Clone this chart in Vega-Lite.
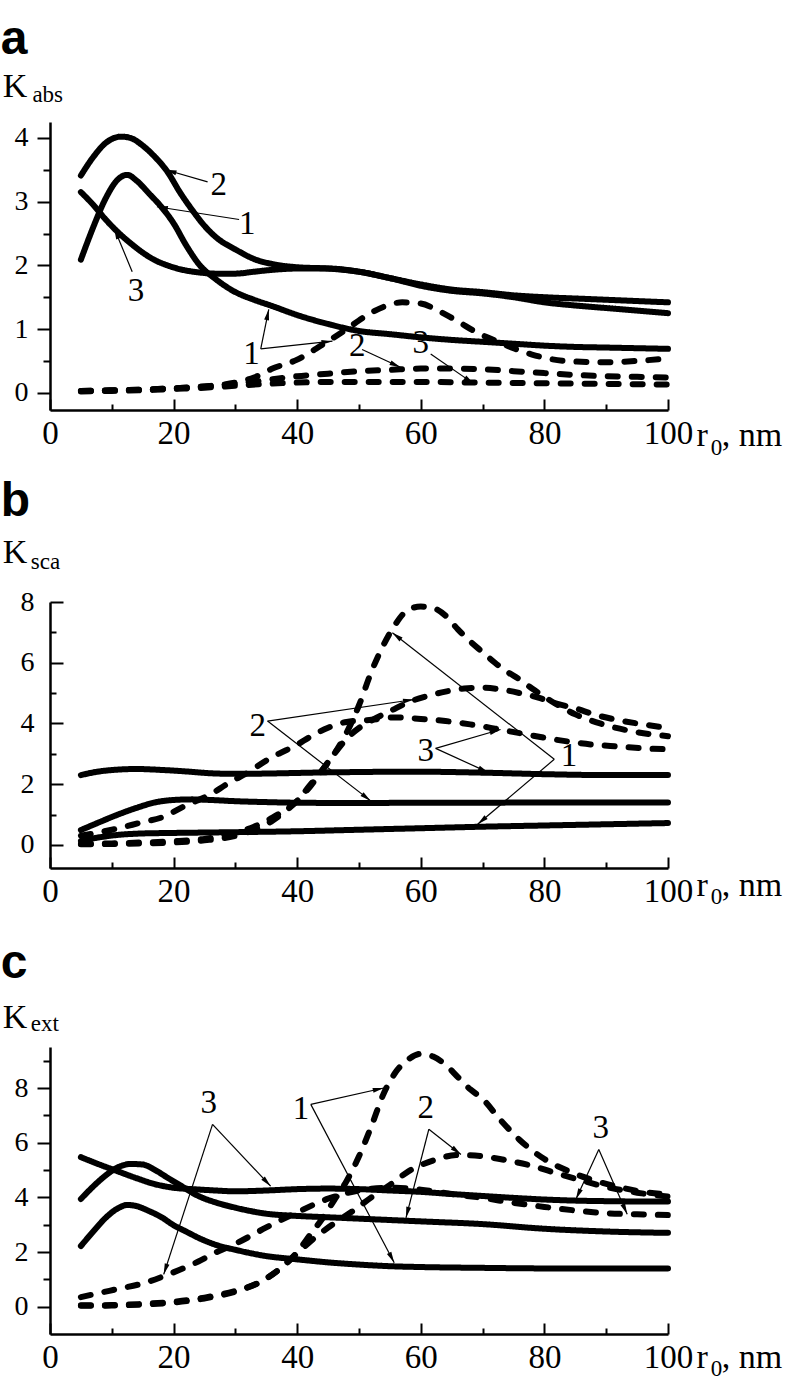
{
"$schema":"https://vega.github.io/schema/vega-lite/v6.json",
"background":"white",
"padding":{"top":15,"left":0,"right":0,"bottom":0},
"config":{"view":{"stroke":null},"axis":{"domainColor":"black","domainWidth":2.5,"tickColor":"black","tickWidth":2,"labelColor":"black","labelFont":"Times New Roman","grid":false,"title":null}},
"datasets":{
"curves":[
{"p":"a","c":"s1","s":"solid","r":5,"K":2.09},{"p":"a","c":"s1","s":"solid","r":7,"K":2.6},{"p":"a","c":"s1","s":"solid","r":9,"K":3.05},{"p":"a","c":"s1","s":"solid","r":11,"K":3.35},{"p":"a","c":"s1","s":"solid","r":12.5,"K":3.42},{"p":"a","c":"s1","s":"solid","r":14,"K":3.33},{"p":"a","c":"s1","s":"solid","r":16,"K":3.13},{"p":"a","c":"s1","s":"solid","r":18,"K":2.92},{"p":"a","c":"s1","s":"solid","r":20,"K":2.66},{"p":"a","c":"s1","s":"solid","r":22,"K":2.32},{"p":"a","c":"s1","s":"solid","r":24,"K":2.03},{"p":"a","c":"s1","s":"solid","r":27,"K":1.77},{"p":"a","c":"s1","s":"solid","r":30,"K":1.58},{"p":"a","c":"s1","s":"solid","r":33,"K":1.46},{"p":"a","c":"s1","s":"solid","r":36,"K":1.36},{"p":"a","c":"s1","s":"solid","r":40,"K":1.22},{"p":"a","c":"s1","s":"solid","r":45,"K":1.08},{"p":"a","c":"s1","s":"solid","r":50,"K":0.97},{"p":"a","c":"s1","s":"solid","r":55,"K":0.92},{"p":"a","c":"s1","s":"solid","r":60,"K":0.87},{"p":"a","c":"s1","s":"solid","r":65,"K":0.83},{"p":"a","c":"s1","s":"solid","r":70,"K":0.8},{"p":"a","c":"s1","s":"solid","r":75,"K":0.77},{"p":"a","c":"s1","s":"solid","r":80,"K":0.74},{"p":"a","c":"s1","s":"solid","r":85,"K":0.72},{"p":"a","c":"s1","s":"solid","r":90,"K":0.71},{"p":"a","c":"s1","s":"solid","r":95,"K":0.7},{"p":"a","c":"s1","s":"solid","r":100,"K":0.69},
{"p":"a","c":"s2","s":"solid","r":5,"K":3.41},{"p":"a","c":"s2","s":"solid","r":7,"K":3.7},{"p":"a","c":"s2","s":"solid","r":9,"K":3.92},{"p":"a","c":"s2","s":"solid","r":11.5,"K":4.02},{"p":"a","c":"s2","s":"solid","r":13,"K":4.0},{"p":"a","c":"s2","s":"solid","r":15,"K":3.88},{"p":"a","c":"s2","s":"solid","r":17,"K":3.7},{"p":"a","c":"s2","s":"solid","r":19,"K":3.47},{"p":"a","c":"s2","s":"solid","r":21,"K":3.15},{"p":"a","c":"s2","s":"solid","r":23,"K":2.87},{"p":"a","c":"s2","s":"solid","r":25,"K":2.62},{"p":"a","c":"s2","s":"solid","r":27,"K":2.43},{"p":"a","c":"s2","s":"solid","r":30,"K":2.25},{"p":"a","c":"s2","s":"solid","r":33,"K":2.1},{"p":"a","c":"s2","s":"solid","r":36,"K":2.02},{"p":"a","c":"s2","s":"solid","r":40,"K":1.97},{"p":"a","c":"s2","s":"solid","r":45,"K":1.95},{"p":"a","c":"s2","s":"solid","r":50,"K":1.9},{"p":"a","c":"s2","s":"solid","r":55,"K":1.8},{"p":"a","c":"s2","s":"solid","r":60,"K":1.68},{"p":"a","c":"s2","s":"solid","r":65,"K":1.6},{"p":"a","c":"s2","s":"solid","r":70,"K":1.56},{"p":"a","c":"s2","s":"solid","r":75,"K":1.5},{"p":"a","c":"s2","s":"solid","r":80,"K":1.42},{"p":"a","c":"s2","s":"solid","r":85,"K":1.37},{"p":"a","c":"s2","s":"solid","r":90,"K":1.33},{"p":"a","c":"s2","s":"solid","r":95,"K":1.29},{"p":"a","c":"s2","s":"solid","r":100,"K":1.25},
{"p":"a","c":"s3","s":"solid","r":5,"K":3.15},{"p":"a","c":"s3","s":"solid","r":7,"K":2.95},{"p":"a","c":"s3","s":"solid","r":9,"K":2.72},{"p":"a","c":"s3","s":"solid","r":11,"K":2.52},{"p":"a","c":"s3","s":"solid","r":13,"K":2.35},{"p":"a","c":"s3","s":"solid","r":15,"K":2.2},{"p":"a","c":"s3","s":"solid","r":17,"K":2.08},{"p":"a","c":"s3","s":"solid","r":19,"K":2.0},{"p":"a","c":"s3","s":"solid","r":21,"K":1.94},{"p":"a","c":"s3","s":"solid","r":24,"K":1.89},{"p":"a","c":"s3","s":"solid","r":27,"K":1.87},{"p":"a","c":"s3","s":"solid","r":30,"K":1.87},{"p":"a","c":"s3","s":"solid","r":33,"K":1.9},{"p":"a","c":"s3","s":"solid","r":36,"K":1.93},{"p":"a","c":"s3","s":"solid","r":40,"K":1.95},{"p":"a","c":"s3","s":"solid","r":45,"K":1.95},{"p":"a","c":"s3","s":"solid","r":50,"K":1.9},{"p":"a","c":"s3","s":"solid","r":55,"K":1.8},{"p":"a","c":"s3","s":"solid","r":60,"K":1.7},{"p":"a","c":"s3","s":"solid","r":65,"K":1.62},{"p":"a","c":"s3","s":"solid","r":70,"K":1.58},{"p":"a","c":"s3","s":"solid","r":75,"K":1.53},{"p":"a","c":"s3","s":"solid","r":80,"K":1.5},{"p":"a","c":"s3","s":"solid","r":85,"K":1.48},{"p":"a","c":"s3","s":"solid","r":90,"K":1.46},{"p":"a","c":"s3","s":"solid","r":95,"K":1.44},{"p":"a","c":"s3","s":"solid","r":100,"K":1.42},
{"p":"a","c":"d1","s":"dashed","r":5,"K":0.03},{"p":"a","c":"d1","s":"dashed","r":10,"K":0.04},{"p":"a","c":"d1","s":"dashed","r":15,"K":0.05},{"p":"a","c":"d1","s":"dashed","r":20,"K":0.07},{"p":"a","c":"d1","s":"dashed","r":25,"K":0.1},{"p":"a","c":"d1","s":"dashed","r":30,"K":0.16},{"p":"a","c":"d1","s":"dashed","r":33,"K":0.24},{"p":"a","c":"d1","s":"dashed","r":36,"K":0.38},{"p":"a","c":"d1","s":"dashed","r":40,"K":0.52},{"p":"a","c":"d1","s":"dashed","r":44,"K":0.75},{"p":"a","c":"d1","s":"dashed","r":48,"K":1.0},{"p":"a","c":"d1","s":"dashed","r":51,"K":1.2},{"p":"a","c":"d1","s":"dashed","r":54,"K":1.35},{"p":"a","c":"d1","s":"dashed","r":57,"K":1.42},{"p":"a","c":"d1","s":"dashed","r":60,"K":1.4},{"p":"a","c":"d1","s":"dashed","r":63,"K":1.28},{"p":"a","c":"d1","s":"dashed","r":66,"K":1.12},{"p":"a","c":"d1","s":"dashed","r":69,"K":0.95},{"p":"a","c":"d1","s":"dashed","r":72,"K":0.82},{"p":"a","c":"d1","s":"dashed","r":75,"K":0.7},{"p":"a","c":"d1","s":"dashed","r":78,"K":0.6},{"p":"a","c":"d1","s":"dashed","r":81,"K":0.53},{"p":"a","c":"d1","s":"dashed","r":85,"K":0.49},{"p":"a","c":"d1","s":"dashed","r":90,"K":0.48},{"p":"a","c":"d1","s":"dashed","r":95,"K":0.5},{"p":"a","c":"d1","s":"dashed","r":100,"K":0.54},
{"p":"a","c":"d2","s":"dashed","r":5,"K":0.03},{"p":"a","c":"d2","s":"dashed","r":10,"K":0.04},{"p":"a","c":"d2","s":"dashed","r":15,"K":0.05},{"p":"a","c":"d2","s":"dashed","r":20,"K":0.07},{"p":"a","c":"d2","s":"dashed","r":25,"K":0.1},{"p":"a","c":"d2","s":"dashed","r":30,"K":0.14},{"p":"a","c":"d2","s":"dashed","r":35,"K":0.2},{"p":"a","c":"d2","s":"dashed","r":40,"K":0.26},{"p":"a","c":"d2","s":"dashed","r":45,"K":0.3},{"p":"a","c":"d2","s":"dashed","r":50,"K":0.34},{"p":"a","c":"d2","s":"dashed","r":55,"K":0.36},{"p":"a","c":"d2","s":"dashed","r":60,"K":0.38},{"p":"a","c":"d2","s":"dashed","r":65,"K":0.38},{"p":"a","c":"d2","s":"dashed","r":70,"K":0.37},{"p":"a","c":"d2","s":"dashed","r":75,"K":0.34},{"p":"a","c":"d2","s":"dashed","r":80,"K":0.31},{"p":"a","c":"d2","s":"dashed","r":85,"K":0.28},{"p":"a","c":"d2","s":"dashed","r":90,"K":0.26},{"p":"a","c":"d2","s":"dashed","r":95,"K":0.25},{"p":"a","c":"d2","s":"dashed","r":100,"K":0.24},
{"p":"a","c":"d3","s":"dashed","r":5,"K":0.02},{"p":"a","c":"d3","s":"dashed","r":10,"K":0.03},{"p":"a","c":"d3","s":"dashed","r":15,"K":0.04},{"p":"a","c":"d3","s":"dashed","r":20,"K":0.06},{"p":"a","c":"d3","s":"dashed","r":25,"K":0.08},{"p":"a","c":"d3","s":"dashed","r":30,"K":0.11},{"p":"a","c":"d3","s":"dashed","r":35,"K":0.14},{"p":"a","c":"d3","s":"dashed","r":40,"K":0.16},{"p":"a","c":"d3","s":"dashed","r":45,"K":0.17},{"p":"a","c":"d3","s":"dashed","r":50,"K":0.17},{"p":"a","c":"d3","s":"dashed","r":60,"K":0.17},{"p":"a","c":"d3","s":"dashed","r":70,"K":0.16},{"p":"a","c":"d3","s":"dashed","r":80,"K":0.15},{"p":"a","c":"d3","s":"dashed","r":90,"K":0.14},{"p":"a","c":"d3","s":"dashed","r":100,"K":0.13},
{"p":"b","c":"s1","s":"solid","r":5,"K":0.13},{"p":"b","c":"s1","s":"solid","r":8,"K":0.25},{"p":"b","c":"s1","s":"solid","r":11,"K":0.33},{"p":"b","c":"s1","s":"solid","r":14,"K":0.37},{"p":"b","c":"s1","s":"solid","r":18,"K":0.39},{"p":"b","c":"s1","s":"solid","r":22,"K":0.4},{"p":"b","c":"s1","s":"solid","r":26,"K":0.41},{"p":"b","c":"s1","s":"solid","r":30,"K":0.42},{"p":"b","c":"s1","s":"solid","r":40,"K":0.45},{"p":"b","c":"s1","s":"solid","r":50,"K":0.5},{"p":"b","c":"s1","s":"solid","r":60,"K":0.55},{"p":"b","c":"s1","s":"solid","r":70,"K":0.6},{"p":"b","c":"s1","s":"solid","r":80,"K":0.64},{"p":"b","c":"s1","s":"solid","r":90,"K":0.68},{"p":"b","c":"s1","s":"solid","r":100,"K":0.72},
{"p":"b","c":"s2","s":"solid","r":5,"K":0.49},{"p":"b","c":"s2","s":"solid","r":8,"K":0.75},{"p":"b","c":"s2","s":"solid","r":11,"K":1.0},{"p":"b","c":"s2","s":"solid","r":14,"K":1.22},{"p":"b","c":"s2","s":"solid","r":17,"K":1.4},{"p":"b","c":"s2","s":"solid","r":20,"K":1.48},{"p":"b","c":"s2","s":"solid","r":23,"K":1.5},{"p":"b","c":"s2","s":"solid","r":26,"K":1.48},{"p":"b","c":"s2","s":"solid","r":30,"K":1.44},{"p":"b","c":"s2","s":"solid","r":35,"K":1.41},{"p":"b","c":"s2","s":"solid","r":40,"K":1.39},{"p":"b","c":"s2","s":"solid","r":50,"K":1.38},{"p":"b","c":"s2","s":"solid","r":60,"K":1.39},{"p":"b","c":"s2","s":"solid","r":70,"K":1.39},{"p":"b","c":"s2","s":"solid","r":80,"K":1.4},{"p":"b","c":"s2","s":"solid","r":90,"K":1.4},{"p":"b","c":"s2","s":"solid","r":100,"K":1.4},
{"p":"b","c":"s3","s":"solid","r":5,"K":2.3},{"p":"b","c":"s3","s":"solid","r":8,"K":2.42},{"p":"b","c":"s3","s":"solid","r":11,"K":2.48},{"p":"b","c":"s3","s":"solid","r":14,"K":2.5},{"p":"b","c":"s3","s":"solid","r":18,"K":2.47},{"p":"b","c":"s3","s":"solid","r":22,"K":2.42},{"p":"b","c":"s3","s":"solid","r":26,"K":2.36},{"p":"b","c":"s3","s":"solid","r":30,"K":2.34},{"p":"b","c":"s3","s":"solid","r":35,"K":2.35},{"p":"b","c":"s3","s":"solid","r":40,"K":2.37},{"p":"b","c":"s3","s":"solid","r":45,"K":2.39},{"p":"b","c":"s3","s":"solid","r":50,"K":2.4},{"p":"b","c":"s3","s":"solid","r":55,"K":2.41},{"p":"b","c":"s3","s":"solid","r":60,"K":2.41},{"p":"b","c":"s3","s":"solid","r":70,"K":2.38},{"p":"b","c":"s3","s":"solid","r":80,"K":2.33},{"p":"b","c":"s3","s":"solid","r":90,"K":2.3},{"p":"b","c":"s3","s":"solid","r":100,"K":2.3},
{"p":"b","c":"d1","s":"dashed","r":5,"K":0.02},{"p":"b","c":"d1","s":"dashed","r":10,"K":0.03},{"p":"b","c":"d1","s":"dashed","r":15,"K":0.05},{"p":"b","c":"d1","s":"dashed","r":20,"K":0.08},{"p":"b","c":"d1","s":"dashed","r":25,"K":0.15},{"p":"b","c":"d1","s":"dashed","r":30,"K":0.3},{"p":"b","c":"d1","s":"dashed","r":33,"K":0.5},{"p":"b","c":"d1","s":"dashed","r":36,"K":0.8},{"p":"b","c":"d1","s":"dashed","r":38,"K":1.1},{"p":"b","c":"d1","s":"dashed","r":40,"K":1.45},{"p":"b","c":"d1","s":"dashed","r":42,"K":1.95},{"p":"b","c":"d1","s":"dashed","r":44,"K":2.45},{"p":"b","c":"d1","s":"dashed","r":46,"K":3.0},{"p":"b","c":"d1","s":"dashed","r":48,"K":3.7},{"p":"b","c":"d1","s":"dashed","r":50,"K":4.6},{"p":"b","c":"d1","s":"dashed","r":52,"K":5.7},{"p":"b","c":"d1","s":"dashed","r":54,"K":6.6},{"p":"b","c":"d1","s":"dashed","r":56,"K":7.3},{"p":"b","c":"d1","s":"dashed","r":58,"K":7.75},{"p":"b","c":"d1","s":"dashed","r":60,"K":7.85},{"p":"b","c":"d1","s":"dashed","r":62,"K":7.8},{"p":"b","c":"d1","s":"dashed","r":64,"K":7.55},{"p":"b","c":"d1","s":"dashed","r":66,"K":7.1},{"p":"b","c":"d1","s":"dashed","r":68,"K":6.7},{"p":"b","c":"d1","s":"dashed","r":70,"K":6.35},{"p":"b","c":"d1","s":"dashed","r":72,"K":6.0},{"p":"b","c":"d1","s":"dashed","r":74,"K":5.7},{"p":"b","c":"d1","s":"dashed","r":76,"K":5.45},{"p":"b","c":"d1","s":"dashed","r":78,"K":5.15},{"p":"b","c":"d1","s":"dashed","r":81,"K":4.75},{"p":"b","c":"d1","s":"dashed","r":85,"K":4.3},{"p":"b","c":"d1","s":"dashed","r":89,"K":4.0},{"p":"b","c":"d1","s":"dashed","r":94,"K":3.75},{"p":"b","c":"d1","s":"dashed","r":100,"K":3.58},
{"p":"b","c":"d2","s":"dashed","r":5,"K":0.03},{"p":"b","c":"d2","s":"dashed","r":10,"K":0.05},{"p":"b","c":"d2","s":"dashed","r":15,"K":0.08},{"p":"b","c":"d2","s":"dashed","r":20,"K":0.12},{"p":"b","c":"d2","s":"dashed","r":25,"K":0.2},{"p":"b","c":"d2","s":"dashed","r":30,"K":0.4},{"p":"b","c":"d2","s":"dashed","r":33,"K":0.6},{"p":"b","c":"d2","s":"dashed","r":36,"K":0.9},{"p":"b","c":"d2","s":"dashed","r":38,"K":1.15},{"p":"b","c":"d2","s":"dashed","r":40,"K":1.45},{"p":"b","c":"d2","s":"dashed","r":42,"K":1.9},{"p":"b","c":"d2","s":"dashed","r":44,"K":2.45},{"p":"b","c":"d2","s":"dashed","r":46,"K":3.0},{"p":"b","c":"d2","s":"dashed","r":48,"K":3.5},{"p":"b","c":"d2","s":"dashed","r":50,"K":3.85},{"p":"b","c":"d2","s":"dashed","r":52,"K":4.1},{"p":"b","c":"d2","s":"dashed","r":55,"K":4.4},{"p":"b","c":"d2","s":"dashed","r":58,"K":4.7},{"p":"b","c":"d2","s":"dashed","r":61,"K":4.9},{"p":"b","c":"d2","s":"dashed","r":64,"K":5.05},{"p":"b","c":"d2","s":"dashed","r":67,"K":5.15},{"p":"b","c":"d2","s":"dashed","r":70,"K":5.18},{"p":"b","c":"d2","s":"dashed","r":73,"K":5.12},{"p":"b","c":"d2","s":"dashed","r":76,"K":5.0},{"p":"b","c":"d2","s":"dashed","r":79,"K":4.85},{"p":"b","c":"d2","s":"dashed","r":82,"K":4.65},{"p":"b","c":"d2","s":"dashed","r":85,"K":4.5},{"p":"b","c":"d2","s":"dashed","r":88,"K":4.3},{"p":"b","c":"d2","s":"dashed","r":91,"K":4.15},{"p":"b","c":"d2","s":"dashed","r":95,"K":4.0},{"p":"b","c":"d2","s":"dashed","r":100,"K":3.85},
{"p":"b","c":"d3","s":"dashed","r":5,"K":0.3},{"p":"b","c":"d3","s":"dashed","r":10,"K":0.5},{"p":"b","c":"d3","s":"dashed","r":15,"K":0.75},{"p":"b","c":"d3","s":"dashed","r":18,"K":0.9},{"p":"b","c":"d3","s":"dashed","r":22,"K":1.3},{"p":"b","c":"d3","s":"dashed","r":26,"K":1.67},{"p":"b","c":"d3","s":"dashed","r":29,"K":2.05},{"p":"b","c":"d3","s":"dashed","r":32,"K":2.38},{"p":"b","c":"d3","s":"dashed","r":35,"K":2.78},{"p":"b","c":"d3","s":"dashed","r":37,"K":3.0},{"p":"b","c":"d3","s":"dashed","r":40,"K":3.3},{"p":"b","c":"d3","s":"dashed","r":42,"K":3.55},{"p":"b","c":"d3","s":"dashed","r":45,"K":3.86},{"p":"b","c":"d3","s":"dashed","r":48,"K":4.05},{"p":"b","c":"d3","s":"dashed","r":52,"K":4.12},{"p":"b","c":"d3","s":"dashed","r":56,"K":4.2},{"p":"b","c":"d3","s":"dashed","r":60,"K":4.15},{"p":"b","c":"d3","s":"dashed","r":64,"K":4.08},{"p":"b","c":"d3","s":"dashed","r":68,"K":3.97},{"p":"b","c":"d3","s":"dashed","r":72,"K":3.83},{"p":"b","c":"d3","s":"dashed","r":76,"K":3.68},{"p":"b","c":"d3","s":"dashed","r":80,"K":3.53},{"p":"b","c":"d3","s":"dashed","r":84,"K":3.4},{"p":"b","c":"d3","s":"dashed","r":88,"K":3.3},{"p":"b","c":"d3","s":"dashed","r":92,"K":3.24},{"p":"b","c":"d3","s":"dashed","r":96,"K":3.18},{"p":"b","c":"d3","s":"dashed","r":100,"K":3.15},
{"p":"c","c":"s1","s":"solid","r":5,"K":2.22},{"p":"c","c":"s1","s":"solid","r":7,"K":2.75},{"p":"c","c":"s1","s":"solid","r":9,"K":3.25},{"p":"c","c":"s1","s":"solid","r":11,"K":3.6},{"p":"c","c":"s1","s":"solid","r":12.5,"K":3.72},{"p":"c","c":"s1","s":"solid","r":14,"K":3.68},{"p":"c","c":"s1","s":"solid","r":16,"K":3.5},{"p":"c","c":"s1","s":"solid","r":18,"K":3.28},{"p":"c","c":"s1","s":"solid","r":20,"K":2.98},{"p":"c","c":"s1","s":"solid","r":22,"K":2.75},{"p":"c","c":"s1","s":"solid","r":24,"K":2.52},{"p":"c","c":"s1","s":"solid","r":27,"K":2.25},{"p":"c","c":"s1","s":"solid","r":30,"K":2.08},{"p":"c","c":"s1","s":"solid","r":35,"K":1.85},{"p":"c","c":"s1","s":"solid","r":40,"K":1.73},{"p":"c","c":"s1","s":"solid","r":45,"K":1.62},{"p":"c","c":"s1","s":"solid","r":50,"K":1.54},{"p":"c","c":"s1","s":"solid","r":55,"K":1.48},{"p":"c","c":"s1","s":"solid","r":60,"K":1.45},{"p":"c","c":"s1","s":"solid","r":70,"K":1.42},{"p":"c","c":"s1","s":"solid","r":80,"K":1.4},{"p":"c","c":"s1","s":"solid","r":90,"K":1.4},{"p":"c","c":"s1","s":"solid","r":100,"K":1.4},
{"p":"c","c":"s2","s":"solid","r":5,"K":3.94},{"p":"c","c":"s2","s":"solid","r":7,"K":4.4},{"p":"c","c":"s2","s":"solid","r":9,"K":4.8},{"p":"c","c":"s2","s":"solid","r":11,"K":5.1},{"p":"c","c":"s2","s":"solid","r":13,"K":5.22},{"p":"c","c":"s2","s":"solid","r":15,"K":5.2},{"p":"c","c":"s2","s":"solid","r":17,"K":5.0},{"p":"c","c":"s2","s":"solid","r":19,"K":4.72},{"p":"c","c":"s2","s":"solid","r":21,"K":4.45},{"p":"c","c":"s2","s":"solid","r":24,"K":4.05},{"p":"c","c":"s2","s":"solid","r":27,"K":3.8},{"p":"c","c":"s2","s":"solid","r":30,"K":3.62},{"p":"c","c":"s2","s":"solid","r":35,"K":3.4},{"p":"c","c":"s2","s":"solid","r":40,"K":3.32},{"p":"c","c":"s2","s":"solid","r":45,"K":3.27},{"p":"c","c":"s2","s":"solid","r":50,"K":3.22},{"p":"c","c":"s2","s":"solid","r":55,"K":3.17},{"p":"c","c":"s2","s":"solid","r":60,"K":3.12},{"p":"c","c":"s2","s":"solid","r":70,"K":3.02},{"p":"c","c":"s2","s":"solid","r":80,"K":2.85},{"p":"c","c":"s2","s":"solid","r":90,"K":2.75},{"p":"c","c":"s2","s":"solid","r":100,"K":2.7},
{"p":"c","c":"s3","s":"solid","r":5,"K":5.47},{"p":"c","c":"s3","s":"solid","r":8,"K":5.2},{"p":"c","c":"s3","s":"solid","r":11,"K":4.95},{"p":"c","c":"s3","s":"solid","r":14,"K":4.7},{"p":"c","c":"s3","s":"solid","r":17,"K":4.48},{"p":"c","c":"s3","s":"solid","r":20,"K":4.35},{"p":"c","c":"s3","s":"solid","r":23,"K":4.3},{"p":"c","c":"s3","s":"solid","r":26,"K":4.26},{"p":"c","c":"s3","s":"solid","r":30,"K":4.22},{"p":"c","c":"s3","s":"solid","r":35,"K":4.25},{"p":"c","c":"s3","s":"solid","r":40,"K":4.3},{"p":"c","c":"s3","s":"solid","r":45,"K":4.32},{"p":"c","c":"s3","s":"solid","r":50,"K":4.3},{"p":"c","c":"s3","s":"solid","r":55,"K":4.25},{"p":"c","c":"s3","s":"solid","r":60,"K":4.2},{"p":"c","c":"s3","s":"solid","r":65,"K":4.12},{"p":"c","c":"s3","s":"solid","r":70,"K":4.05},{"p":"c","c":"s3","s":"solid","r":75,"K":3.98},{"p":"c","c":"s3","s":"solid","r":80,"K":3.92},{"p":"c","c":"s3","s":"solid","r":85,"K":3.88},{"p":"c","c":"s3","s":"solid","r":90,"K":3.86},{"p":"c","c":"s3","s":"solid","r":95,"K":3.85},{"p":"c","c":"s3","s":"solid","r":100,"K":3.85},
{"p":"c","c":"d1","s":"dashed","r":5,"K":0.03},{"p":"c","c":"d1","s":"dashed","r":10,"K":0.04},{"p":"c","c":"d1","s":"dashed","r":15,"K":0.08},{"p":"c","c":"d1","s":"dashed","r":20,"K":0.15},{"p":"c","c":"d1","s":"dashed","r":25,"K":0.3},{"p":"c","c":"d1","s":"dashed","r":30,"K":0.55},{"p":"c","c":"d1","s":"dashed","r":34,"K":0.9},{"p":"c","c":"d1","s":"dashed","r":37,"K":1.35},{"p":"c","c":"d1","s":"dashed","r":40,"K":2.0},{"p":"c","c":"d1","s":"dashed","r":42,"K":2.6},{"p":"c","c":"d1","s":"dashed","r":44,"K":3.2},{"p":"c","c":"d1","s":"dashed","r":46,"K":3.9},{"p":"c","c":"d1","s":"dashed","r":48,"K":4.6},{"p":"c","c":"d1","s":"dashed","r":50,"K":5.5},{"p":"c","c":"d1","s":"dashed","r":52,"K":6.6},{"p":"c","c":"d1","s":"dashed","r":54,"K":7.8},{"p":"c","c":"d1","s":"dashed","r":56,"K":8.6},{"p":"c","c":"d1","s":"dashed","r":58,"K":9.05},{"p":"c","c":"d1","s":"dashed","r":60,"K":9.25},{"p":"c","c":"d1","s":"dashed","r":62,"K":9.15},{"p":"c","c":"d1","s":"dashed","r":64,"K":8.85},{"p":"c","c":"d1","s":"dashed","r":66,"K":8.4},{"p":"c","c":"d1","s":"dashed","r":68,"K":7.95},{"p":"c","c":"d1","s":"dashed","r":70,"K":7.6},{"p":"c","c":"d1","s":"dashed","r":73,"K":6.8},{"p":"c","c":"d1","s":"dashed","r":76,"K":6.1},{"p":"c","c":"d1","s":"dashed","r":80,"K":5.4},{"p":"c","c":"d1","s":"dashed","r":84,"K":4.95},{"p":"c","c":"d1","s":"dashed","r":88,"K":4.62},{"p":"c","c":"d1","s":"dashed","r":92,"K":4.38},{"p":"c","c":"d1","s":"dashed","r":96,"K":4.2},{"p":"c","c":"d1","s":"dashed","r":100,"K":4.1},
{"p":"c","c":"d2","s":"dashed","r":5,"K":0.05},{"p":"c","c":"d2","s":"dashed","r":10,"K":0.06},{"p":"c","c":"d2","s":"dashed","r":15,"K":0.1},{"p":"c","c":"d2","s":"dashed","r":20,"K":0.18},{"p":"c","c":"d2","s":"dashed","r":25,"K":0.33},{"p":"c","c":"d2","s":"dashed","r":30,"K":0.58},{"p":"c","c":"d2","s":"dashed","r":34,"K":0.9},{"p":"c","c":"d2","s":"dashed","r":37,"K":1.35},{"p":"c","c":"d2","s":"dashed","r":40,"K":1.95},{"p":"c","c":"d2","s":"dashed","r":43,"K":2.55},{"p":"c","c":"d2","s":"dashed","r":46,"K":3.05},{"p":"c","c":"d2","s":"dashed","r":49,"K":3.5},{"p":"c","c":"d2","s":"dashed","r":52,"K":4.0},{"p":"c","c":"d2","s":"dashed","r":55,"K":4.45},{"p":"c","c":"d2","s":"dashed","r":58,"K":4.95},{"p":"c","c":"d2","s":"dashed","r":62,"K":5.35},{"p":"c","c":"d2","s":"dashed","r":66,"K":5.55},{"p":"c","c":"d2","s":"dashed","r":70,"K":5.5},{"p":"c","c":"d2","s":"dashed","r":74,"K":5.35},{"p":"c","c":"d2","s":"dashed","r":78,"K":5.15},{"p":"c","c":"d2","s":"dashed","r":82,"K":4.88},{"p":"c","c":"d2","s":"dashed","r":86,"K":4.62},{"p":"c","c":"d2","s":"dashed","r":90,"K":4.38},{"p":"c","c":"d2","s":"dashed","r":95,"K":4.17},{"p":"c","c":"d2","s":"dashed","r":100,"K":4.03},
{"p":"c","c":"d3","s":"dashed","r":5,"K":0.35},{"p":"c","c":"d3","s":"dashed","r":8,"K":0.5},{"p":"c","c":"d3","s":"dashed","r":11,"K":0.65},{"p":"c","c":"d3","s":"dashed","r":15,"K":0.85},{"p":"c","c":"d3","s":"dashed","r":18,"K":1.08},{"p":"c","c":"d3","s":"dashed","r":21,"K":1.35},{"p":"c","c":"d3","s":"dashed","r":24,"K":1.65},{"p":"c","c":"d3","s":"dashed","r":27,"K":2.0},{"p":"c","c":"d3","s":"dashed","r":30,"K":2.3},{"p":"c","c":"d3","s":"dashed","r":35,"K":2.9},{"p":"c","c":"d3","s":"dashed","r":40,"K":3.45},{"p":"c","c":"d3","s":"dashed","r":45,"K":3.95},{"p":"c","c":"d3","s":"dashed","r":50,"K":4.25},{"p":"c","c":"d3","s":"dashed","r":55,"K":4.35},{"p":"c","c":"d3","s":"dashed","r":60,"K":4.28},{"p":"c","c":"d3","s":"dashed","r":65,"K":4.12},{"p":"c","c":"d3","s":"dashed","r":70,"K":3.98},{"p":"c","c":"d3","s":"dashed","r":75,"K":3.8},{"p":"c","c":"d3","s":"dashed","r":80,"K":3.65},{"p":"c","c":"d3","s":"dashed","r":85,"K":3.52},{"p":"c","c":"d3","s":"dashed","r":90,"K":3.42},{"p":"c","c":"d3","s":"dashed","r":95,"K":3.38},{"p":"c","c":"d3","s":"dashed","r":100,"K":3.35}
],
"arrows":[
{"p":"a","x1":25.5,"y1":3.31,"x2":18.7,"y2":3.5},{"p":"a","x1":30.6,"y1":2.72,"x2":17.3,"y2":2.92},{"p":"a","x1":13.3,"y1":1.9,"x2":10.4,"y2":2.58},{"p":"a","x1":34.1,"y1":0.69,"x2":35.4,"y2":1.31},{"p":"a","x1":34.1,"y1":0.69,"x2":45.7,"y2":0.81},{"p":"a","x1":50.5,"y1":0.68,"x2":56.7,"y2":0.4},{"p":"a","x1":61.6,"y1":0.61,"x2":68.6,"y2":0.14},
{"p":"b","x1":35.2,"y1":4.08,"x2":58.9,"y2":4.79},{"p":"b","x1":35.2,"y1":4.08,"x2":51.9,"y2":1.45},{"p":"b","x1":62.4,"y1":3.18,"x2":72.9,"y2":3.8},{"p":"b","x1":62.4,"y1":3.18,"x2":71,"y2":2.38},{"p":"b","x1":81.6,"y1":2.82,"x2":55.4,"y2":6.99},{"p":"b","x1":81.6,"y1":2.82,"x2":69.2,"y2":0.68},
{"p":"c","x1":26.3,"y1":6.67,"x2":35.7,"y2":4.41},{"p":"c","x1":26.3,"y1":6.67,"x2":18.4,"y2":1.18},{"p":"c","x1":42.2,"y1":7.4,"x2":54,"y2":8.0},{"p":"c","x1":42.2,"y1":7.4,"x2":55.7,"y2":1.61},{"p":"c","x1":61.3,"y1":6.49,"x2":66.5,"y2":5.57},{"p":"c","x1":61.3,"y1":6.49,"x2":57.6,"y2":3.25},{"p":"c","x1":88.8,"y1":5.75,"x2":85.1,"y2":3.93},{"p":"c","x1":88.8,"y1":5.75,"x2":93.4,"y2":3.38}
],
"labels":[
{"p":"a","k":"num","x":27.3,"y":3.1,"t":"2"},{"p":"a","k":"num","x":31.9,"y":2.5,"t":"1"},{"p":"a","k":"num","x":13.9,"y":1.44,"t":"3"},{"p":"a","k":"num","x":32.6,"y":0.45,"t":"1"},{"p":"a","k":"num","x":49.7,"y":0.58,"t":"2"},{"p":"a","k":"num","x":60,"y":0.63,"t":"3"},
{"p":"a","k":"let","x":-7.98,"y":5.32,"t":"a"},{"p":"a","k":"K","x":-7.65,"y":4.64,"t":"K"},{"p":"a","k":"sub","x":-2.85,"y":4.57,"t":"abs"},
{"p":"a","k":"xt","x":104.6,"y":-0.84,"t":"r"},{"p":"a","k":"xt","x":108.7,"y":-0.84,"t":", nm"},{"p":"a","k":"xs","x":106.9,"y":-0.98,"t":"0"},
{"p":"b","k":"num","x":33.6,"y":3.59,"t":"2"},{"p":"b","k":"num","x":60.8,"y":2.76,"t":"3"},{"p":"b","k":"num","x":84,"y":2.6,"t":"1"},
{"p":"b","k":"let","x":-7.98,"y":10.82,"t":"b"},{"p":"b","k":"K","x":-7.65,"y":9.29,"t":"K"},{"p":"b","k":"sub","x":-3.12,"y":9.1,"t":"sca"},
{"p":"b","k":"xt","x":104.6,"y":-1.68,"t":"r"},{"p":"b","k":"xt","x":108.7,"y":-1.68,"t":", nm"},{"p":"b","k":"xs","x":106.9,"y":-1.95,"t":"0"},
{"p":"c","k":"num","x":25.7,"y":7.09,"t":"3"},{"p":"c","k":"num","x":40.6,"y":6.85,"t":"1"},{"p":"c","k":"num","x":60.8,"y":6.91,"t":"2"},{"p":"c","k":"num","x":89.1,"y":6.18,"t":"3"},
{"p":"c","k":"let","x":-7.98,"y":12.03,"t":"c"},{"p":"c","k":"K","x":-7.65,"y":10.18,"t":"K"},{"p":"c","k":"sub","x":-3.12,"y":10.1,"t":"ext"},
{"p":"c","k":"xt","x":104.6,"y":-2.23,"t":"r"},{"p":"c","k":"xt","x":108.7,"y":-2.23,"t":", nm"},{"p":"c","k":"xs","x":106.9,"y":-2.53,"t":"0"}
]
},
"bounds":"flush",
"spacing":192,
"vconcat":[
{
"width":618,"height":288,
"resolve":{"axis":{"x":"independent","y":"independent"}},
"layer":[
{"data":{"name":"curves"},"transform":[{"filter":"datum.p==='a'"}],
"mark":{"type":"line","interpolate":"monotone","strokeWidth":6,"strokeCap":"round","color":"black"},
"encoding":{
"x":{"field":"r","type":"quantitative","scale":{"domain":[0,100],"nice":false,"zero":false},"axis":{"orient":"bottom","values":[0,20,40,60,80,100],"tickSize":-11,"labelFont":"Times New Roman","labelFontSize":33,"labelPadding":18,"labelFlush":false,"labelOverlap":false}},
"y":{"field":"K","type":"quantitative","scale":{"domain":[-0.27,4.25],"nice":false,"zero":false},"axis":{"orient":"left","values":[0,1,2,3,4],"tickSize":13,"labelFont":"Times New Roman","labelFontSize":28,"labelPadding":9,"labelFlush":false,"labelOverlap":false}},
"detail":{"field":"c"},
"strokeDash":{"field":"s","type":"nominal","scale":{"domain":["solid","dashed"],"range":[[1,0],[10,14]]},"legend":null}}},
{"data":{"name":"arrows"},"transform":[{"filter":"datum.p==='a'"}],
"mark":{"type":"rule","strokeWidth":1.2,"color":"black"},
"encoding":{
"x":{"field":"x1","type":"quantitative","axis":{"orient":"bottom","values":[10,30,50,70,90],"tickSize":-6,"labels":false,"domain":false}},
"y":{"field":"y1","type":"quantitative","axis":{"orient":"left","values":[0.5,1.5,2.5,3.5],"tickSize":7,"labels":false,"domain":false}},
"x2":{"field":"x2"},"y2":{"field":"y2"}}},
{"data":{"name":"arrows"},"transform":[{"filter":"datum.p==='a'"},{"calculate":"atan2((datum.x2-datum.x1)*6.18,(datum.y2-datum.y1)*63.7)*180/PI","as":"ang"}],
"mark":{"type":"point","shape":"M0,0L0.45,2L-0.45,2Z","size":121,"filled":true,"color":"black","opacity":1,"strokeWidth":0},
"encoding":{"x":{"field":"x2","type":"quantitative","axis":null},"y":{"field":"y2","type":"quantitative","axis":null},"angle":{"field":"ang","type":"quantitative","scale":null}}},
{"data":{"name":"labels"},"transform":[{"filter":"datum.p==='a' && datum.k==='num'"}],
"mark":{"type":"text","font":"Liberation Serif","fontSize":33,"align":"center","baseline":"alphabetic","color":"black"},
"encoding":{"x":{"field":"x","type":"quantitative","axis":null},"y":{"field":"y","type":"quantitative","axis":null},"text":{"field":"t"}}},
{"data":{"name":"labels"},"transform":[{"filter":"datum.p==='a' && datum.k==='let'"}],
"mark":{"type":"text","font":"Liberation Sans","fontWeight":"bold","fontSize":48,"align":"left","baseline":"alphabetic","color":"black"},
"encoding":{"x":{"field":"x","type":"quantitative","axis":null},"y":{"field":"y","type":"quantitative","axis":null},"text":{"field":"t"}}},
{"data":{"name":"labels"},"transform":[{"filter":"datum.p==='a' && (datum.k==='K' || datum.k==='xt')"}],
"mark":{"type":"text","font":"Liberation Serif","fontSize":34,"align":"left","baseline":"alphabetic","color":"black"},
"encoding":{"x":{"field":"x","type":"quantitative","axis":null},"y":{"field":"y","type":"quantitative","axis":null},"text":{"field":"t"}}},
{"data":{"name":"labels"},"transform":[{"filter":"datum.p==='a' && (datum.k==='sub' || datum.k==='xs')"}],
"mark":{"type":"text","font":"Liberation Serif","fontSize":23,"align":"left","baseline":"alphabetic","color":"black"},
"encoding":{"x":{"field":"x","type":"quantitative","axis":null},"y":{"field":"y","type":"quantitative","axis":null},"text":{"field":"t"}}}
]
},
{
"bounds":"flush",
"spacing":179,
"vconcat":[
{
"width":618,"height":266,
"resolve":{"axis":{"x":"independent","y":"independent"}},
"layer":[
{"data":{"name":"curves"},"transform":[{"filter":"datum.p==='b'"}],
"mark":{"type":"line","interpolate":"monotone","strokeWidth":6,"strokeCap":"round","color":"black"},
"encoding":{
"x":{"field":"r","type":"quantitative","scale":{"domain":[0,100],"nice":false,"zero":false},"axis":{"orient":"bottom","values":[0,20,40,60,80,100],"tickSize":-11,"labelFont":"Times New Roman","labelFontSize":33,"labelPadding":18,"labelFlush":false,"labelOverlap":false}},
"y":{"field":"K","type":"quantitative","scale":{"domain":[-0.76,8],"nice":false,"zero":false},"axis":{"orient":"left","values":[0,2,4,6,8],"tickSize":-13,"labelFont":"Times New Roman","labelFontSize":28,"labelPadding":29,"labelFlush":false,"labelOverlap":false}},
"detail":{"field":"c"},
"strokeDash":{"field":"s","type":"nominal","scale":{"domain":["solid","dashed"],"range":[[1,0],[10,14]]},"legend":null}}},
{"data":{"name":"arrows"},"transform":[{"filter":"datum.p==='b'"}],
"mark":{"type":"rule","strokeWidth":1.2,"color":"black"},
"encoding":{
"x":{"field":"x1","type":"quantitative","axis":{"orient":"bottom","values":[10,30,50,70,90],"tickSize":-6,"labels":false,"domain":false}},
"y":{"field":"y1","type":"quantitative","axis":{"orient":"left","values":[1,3,5,7],"tickSize":-6,"labels":false,"domain":false}},
"x2":{"field":"x2"},"y2":{"field":"y2"}}},
{"data":{"name":"arrows"},"transform":[{"filter":"datum.p==='b'"},{"calculate":"atan2((datum.x2-datum.x1)*6.18,(datum.y2-datum.y1)*30.37)*180/PI","as":"ang"}],
"mark":{"type":"point","shape":"M0,0L0.45,2L-0.45,2Z","size":121,"filled":true,"color":"black","opacity":1,"strokeWidth":0},
"encoding":{"x":{"field":"x2","type":"quantitative","axis":null},"y":{"field":"y2","type":"quantitative","axis":null},"angle":{"field":"ang","type":"quantitative","scale":null}}},
{"data":{"name":"labels"},"transform":[{"filter":"datum.p==='b' && datum.k==='num'"}],
"mark":{"type":"text","font":"Liberation Serif","fontSize":33,"align":"center","baseline":"alphabetic","color":"black"},
"encoding":{"x":{"field":"x","type":"quantitative","axis":null},"y":{"field":"y","type":"quantitative","axis":null},"text":{"field":"t"}}},
{"data":{"name":"labels"},"transform":[{"filter":"datum.p==='b' && datum.k==='let'"}],
"mark":{"type":"text","font":"Liberation Sans","fontWeight":"bold","fontSize":48,"align":"left","baseline":"alphabetic","color":"black"},
"encoding":{"x":{"field":"x","type":"quantitative","axis":null},"y":{"field":"y","type":"quantitative","axis":null},"text":{"field":"t"}}},
{"data":{"name":"labels"},"transform":[{"filter":"datum.p==='b' && (datum.k==='K' || datum.k==='xt')"}],
"mark":{"type":"text","font":"Liberation Serif","fontSize":34,"align":"left","baseline":"alphabetic","color":"black"},
"encoding":{"x":{"field":"x","type":"quantitative","axis":null},"y":{"field":"y","type":"quantitative","axis":null},"text":{"field":"t"}}},
{"data":{"name":"labels"},"transform":[{"filter":"datum.p==='b' && (datum.k==='sub' || datum.k==='xs')"}],
"mark":{"type":"text","font":"Liberation Serif","fontSize":23,"align":"left","baseline":"alphabetic","color":"black"},
"encoding":{"x":{"field":"x","type":"quantitative","axis":null},"y":{"field":"y","type":"quantitative","axis":null},"text":{"field":"t"}}}
]
},
{
"width":618,"height":287,
"resolve":{"axis":{"x":"independent","y":"independent"}},
"layer":[
{"data":{"name":"curves"},"transform":[{"filter":"datum.p==='c'"}],
"mark":{"type":"line","interpolate":"monotone","strokeWidth":6,"strokeCap":"round","color":"black"},
"encoding":{
"x":{"field":"r","type":"quantitative","scale":{"domain":[0,100],"nice":false,"zero":false},"axis":{"orient":"bottom","values":[0,20,40,60,80,100],"tickSize":-11,"labelFont":"Times New Roman","labelFontSize":33,"labelPadding":18,"labelFlush":false,"labelOverlap":false}},
"y":{"field":"K","type":"quantitative","scale":{"domain":[-1,9.5],"nice":false,"zero":false},"axis":{"orient":"left","values":[0,2,4,6,8],"tickSize":13,"labelFont":"Times New Roman","labelFontSize":28,"labelPadding":9,"labelFlush":false,"labelOverlap":false}},
"detail":{"field":"c"},
"strokeDash":{"field":"s","type":"nominal","scale":{"domain":["solid","dashed"],"range":[[1,0],[10,14]]},"legend":null}}},
{"data":{"name":"arrows"},"transform":[{"filter":"datum.p==='c'"}],
"mark":{"type":"rule","strokeWidth":1.2,"color":"black"},
"encoding":{
"x":{"field":"x1","type":"quantitative","axis":{"orient":"bottom","values":[10,30,50,70,90],"tickSize":-6,"labels":false,"domain":false}},
"y":{"field":"y1","type":"quantitative","axis":{"orient":"left","values":[1,3,5,7,9],"tickSize":7,"labels":false,"domain":false}},
"x2":{"field":"x2"},"y2":{"field":"y2"}}},
{"data":{"name":"arrows"},"transform":[{"filter":"datum.p==='c'"},{"calculate":"atan2((datum.x2-datum.x1)*6.18,(datum.y2-datum.y1)*27.33)*180/PI","as":"ang"}],
"mark":{"type":"point","shape":"M0,0L0.45,2L-0.45,2Z","size":121,"filled":true,"color":"black","opacity":1,"strokeWidth":0},
"encoding":{"x":{"field":"x2","type":"quantitative","axis":null},"y":{"field":"y2","type":"quantitative","axis":null},"angle":{"field":"ang","type":"quantitative","scale":null}}},
{"data":{"name":"labels"},"transform":[{"filter":"datum.p==='c' && datum.k==='num'"}],
"mark":{"type":"text","font":"Liberation Serif","fontSize":33,"align":"center","baseline":"alphabetic","color":"black"},
"encoding":{"x":{"field":"x","type":"quantitative","axis":null},"y":{"field":"y","type":"quantitative","axis":null},"text":{"field":"t"}}},
{"data":{"name":"labels"},"transform":[{"filter":"datum.p==='c' && datum.k==='let'"}],
"mark":{"type":"text","font":"Liberation Sans","fontWeight":"bold","fontSize":48,"align":"left","baseline":"alphabetic","color":"black"},
"encoding":{"x":{"field":"x","type":"quantitative","axis":null},"y":{"field":"y","type":"quantitative","axis":null},"text":{"field":"t"}}},
{"data":{"name":"labels"},"transform":[{"filter":"datum.p==='c' && (datum.k==='K' || datum.k==='xt')"}],
"mark":{"type":"text","font":"Liberation Serif","fontSize":34,"align":"left","baseline":"alphabetic","color":"black"},
"encoding":{"x":{"field":"x","type":"quantitative","axis":null},"y":{"field":"y","type":"quantitative","axis":null},"text":{"field":"t"}}},
{"data":{"name":"labels"},"transform":[{"filter":"datum.p==='c' && (datum.k==='sub' || datum.k==='xs')"}],
"mark":{"type":"text","font":"Liberation Serif","fontSize":23,"align":"left","baseline":"alphabetic","color":"black"},
"encoding":{"x":{"field":"x","type":"quantitative","axis":null},"y":{"field":"y","type":"quantitative","axis":null},"text":{"field":"t"}}}
]
}
]
}
]
}
